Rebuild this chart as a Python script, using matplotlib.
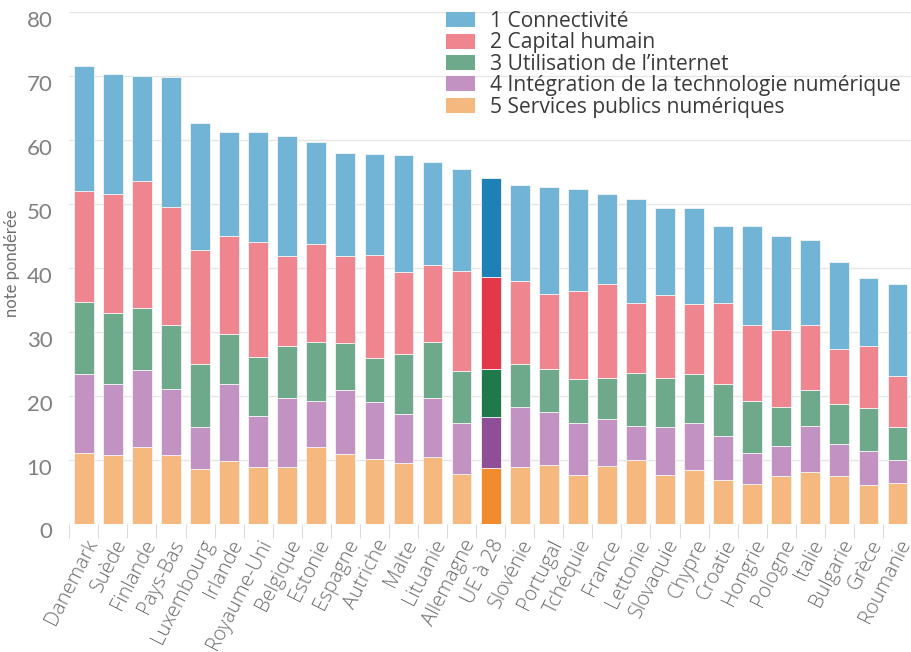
import matplotlib
matplotlib.use("Agg")
import matplotlib.pyplot as plt
import matplotlib.transforms as mtransforms
import numpy as np
from matplotlib.patches import Patch

countries = [
    "Danemark", "Suède", "Finlande", "Pays-Bas", "Luxembourg", "Irlande",
    "Royaume-Uni", "Belgique", "Estonie", "Espagne", "Autriche", "Malte",
    "Lituanie", "Allemagne", "UE à 28", "Slovénie", "Portugal", "Tchéquie",
    "France", "Lettonie", "Slovaquie", "Chypre", "Croatie", "Hongrie",
    "Pologne", "Italie", "Bulgarie", "Grèce", "Roumanie",
]

# weighted scores per DESI dimension (stacked bottom -> top: 5, 4, 3, 2, 1)
services = [11.1, 10.7, 12.0, 10.7, 8.6, 9.8, 8.8, 8.8, 11.9, 10.9, 10.1, 9.4,
            10.4, 7.7, 8.7, 8.8, 9.2, 7.6, 9.0, 9.9, 7.6, 8.3, 6.8, 6.2, 7.4,
            8.0, 7.5, 6.1, 6.3]
integration = [12.3, 11.2, 12.1, 10.4, 6.5, 12.0, 8.1, 10.8, 7.3, 10.0, 8.9, 7.7,
               9.3, 8.1, 8.0, 9.5, 8.2, 8.1, 7.4, 5.4, 7.5, 7.5, 6.9, 4.9, 4.7,
               7.3, 4.9, 5.2, 3.6]
internet = [11.2, 11.1, 9.7, 10.0, 9.9, 7.9, 9.2, 8.1, 9.2, 7.4, 6.9, 9.5,
            8.7, 8.0, 7.5, 6.6, 6.8, 6.9, 6.3, 8.2, 7.7, 7.6, 8.2, 8.0, 6.1,
            5.6, 6.3, 6.8, 5.2]
capital = [17.5, 18.5, 19.8, 18.5, 17.8, 15.3, 18.0, 14.2, 15.3, 13.6, 16.1, 12.8,
           12.1, 15.7, 14.3, 13.0, 11.7, 13.8, 14.8, 11.0, 13.0, 10.9, 12.6, 12.0,
           12.1, 10.2, 8.6, 9.6, 8.0]
connect = [19.5, 18.8, 16.4, 20.2, 19.9, 16.3, 17.1, 18.8, 16.0, 16.1, 15.9, 18.2,
           16.1, 16.0, 15.5, 15.1, 16.7, 15.9, 14.0, 16.3, 13.6, 15.0, 12.1, 15.4,
           14.7, 13.2, 13.7, 10.7, 14.4]

labels = ["1 Connectivité", "2 Capital humain", "3 Utilisation de l’internet",
          "4 Intégration de la technologie numérique", "5 Services publics numériques"]
colors = ["#72b4d6", "#ef858f", "#6fa98b", "#c192c2", "#f5b87f"]
eu_colors = ["#1f80b6", "#e3374a", "#20794a", "#8e4f97", "#f08c2e"]

series = [connect, capital, internet, integration, services]
x = np.arange(len(countries))
eu = countries.index("UE à 28")

fig = plt.figure(figsize=(9.12, 6.52), dpi=100)
ax = fig.add_axes([69 / 912, 1 - 523.5 / 652, 1 - 69 / 912, (523.5 - 12.3) / 652])

bottom = np.zeros(len(countries))
for vals, col, ecol in zip(series[::-1], colors[::-1], eu_colors[::-1]):
    vals = np.array(vals)
    cols = [ecol if i == eu else col for i in range(len(countries))]
    ax.bar(x, vals, bottom=bottom, width=0.68, color=cols,
           edgecolor="#f4f4f4", linewidth=0.6, zorder=2)
    bottom += vals

ax.set_ylim(0, 80)
ax.set_xlim(-0.51, 28.07)
ax.set_yticks(range(0, 81, 10))
ax.yaxis.grid(True, color="#e6e6e6", linewidth=1, zorder=0)
for s in ax.spines.values():
    s.set_visible(False)

ax.set_yticklabels([str(v) for v in range(0, 81, 10)], fontsize=16,
                   family=["Lato", "DejaVu Sans"], fontweight="normal", color="#808080")
ax.tick_params(axis="y", length=0, pad=12)
# labels in the original sit a few pixels below their grid lines
shift = mtransforms.ScaledTranslation(0, -0.07, fig.dpi_scale_trans)
for lab in ax.get_yticklabels():
    lab.set_transform(lab.get_transform() + shift)

ax.set_xticks(x)
ax.set_xticklabels(countries, rotation=63, ha="right", va="top",
                   rotation_mode="anchor", fontsize=14.5,
                   family=["Open Sans", "DejaVu Sans"], fontweight="light",
                   color="#6a6a6a")
ax.tick_params(axis="x", which="major", length=0, pad=9)
ax.set_xticks(np.arange(-0.5, len(countries), 1), minor=True)
ax.tick_params(axis="x", which="minor", length=10, color="#dcdcdc", width=0.8)

ax.set_ylabel("note pondérée", fontsize=12, color="#6e6e6e",
              family=["Lato", "DejaVu Sans"])
ax.yaxis.set_label_coords(-0.058, 0.51)

handles = [Patch(facecolor=c, edgecolor="none") for c in colors]
fig.legend(handles, labels, loc="upper left", bbox_to_anchor=(446 / 912, 1 - 11 / 652),
           frameon=False, handlelength=1.4, handleheight=0.72,
           handletextpad=0.7, labelspacing=0.02, borderpad=0, borderaxespad=0,
           prop={"family": ["Open Sans", "DejaVu Sans"], "size": 15.1},
           labelcolor="#3a3a3a")

fig.savefig("out.png", dpi=100)
